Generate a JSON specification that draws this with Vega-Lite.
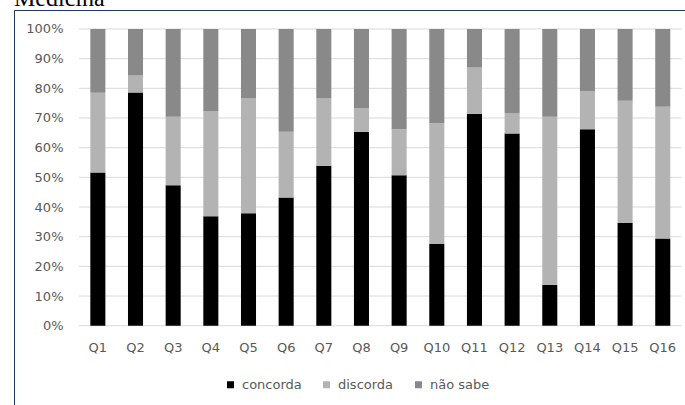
{
  "$schema": "https://vega.github.io/schema/vega-lite/v6.json",
  "width": 671,
  "height": 395,
  "autosize": {"type": "none"},
  "padding": {"left": 14, "top": 10, "right": 0, "bottom": 0},
  "background": "white",
  "title": {
    "text": "Medicina",
    "anchor": "start",
    "frame": "group",
    "font": "Liberation Serif",
    "fontSize": 24,
    "fontWeight": "normal",
    "color": "#000000",
    "baseline": "alphabetic",
    "offset": 5,
    "dy": 25
  },
  "config": {
    "view": {"stroke": null},
    "axis": {
      "labelFont": "DejaVu Sans",
      "labelFontSize": 13,
      "labelColor": "#595959",
      "ticks": false,
      "tickSize": 0,
      "grid": false,
      "domainColor": "#203864",
      "domainWidth": 1
    },
    "legend": {
      "labelFont": "DejaVu Sans",
      "labelFontSize": 13,
      "labelColor": "#595959"
    }
  },
  "layer": [
    {
      "data": {"values": [{"v": 0}, {"v": 10}, {"v": 20}, {"v": 30}, {"v": 40}, {"v": 50}, {"v": 60}, {"v": 70}, {"v": 80}, {"v": 90}, {"v": 100}]},
      "mark": {"type": "rule", "color": "#d9d9d9", "strokeWidth": 1},
      "encoding": {
        "y": {"field": "v", "type": "quantitative",
              "scale": {"domain": [-26.73, 106.4], "nice": false, "zero": false},
              "axis": {"orient": "left", "title": null, "values": [0, 10, 20, 30, 40, 50, 60, 70, 80, 90, 100],
                       "labelExpr": "datum.value + '%'", "labelPadding": -49, "labelAlign": "right"}},
        "x": {"datum": "Q1", "type": "nominal", "bandPosition": -0.111,
              "scale": {"type": "band", "domain": ["Q1","Q2","Q3","Q4","Q5","Q6","Q7","Q8","Q9","Q10","Q11","Q12","Q13","Q14","Q15","Q16"],
                        "paddingInner": 0.183, "paddingOuter": 1, "align": 0.909, "round": false},
              "axis": {"orient": "top", "title": null, "labelPadding": -337, "labelBaseline": "middle", "labelAngle": 0}},
        "x2": {"datum": "Q16", "bandPosition": 1.111}
      }
    },
    {
      "data": {"values": [
        {"q": "Q1", "concorda": 51.6, "discorda": 26.9, "não sabe": 21.5},
        {"q": "Q2", "concorda": 78.6, "discorda": 5.7, "não sabe": 15.7},
        {"q": "Q3", "concorda": 47.3, "discorda": 23.1, "não sabe": 29.6},
        {"q": "Q4", "concorda": 36.9, "discorda": 35.5, "não sabe": 27.6},
        {"q": "Q5", "concorda": 37.9, "discorda": 38.7, "não sabe": 23.4},
        {"q": "Q6", "concorda": 43.2, "discorda": 22.2, "não sabe": 34.6},
        {"q": "Q7", "concorda": 53.9, "discorda": 22.7, "não sabe": 23.4},
        {"q": "Q8", "concorda": 65.4, "discorda": 7.9, "não sabe": 26.7},
        {"q": "Q9", "concorda": 50.7, "discorda": 15.5, "não sabe": 33.8},
        {"q": "Q10", "concorda": 27.5, "discorda": 40.7, "não sabe": 31.8},
        {"q": "Q11", "concorda": 71.4, "discorda": 15.6, "não sabe": 13.0},
        {"q": "Q12", "concorda": 64.8, "discorda": 6.7, "não sabe": 28.5},
        {"q": "Q13", "concorda": 13.8, "discorda": 56.6, "não sabe": 29.6},
        {"q": "Q14", "concorda": 66.2, "discorda": 12.8, "não sabe": 21.0},
        {"q": "Q15", "concorda": 34.6, "discorda": 41.2, "não sabe": 24.2},
        {"q": "Q16", "concorda": 29.4, "discorda": 44.4, "não sabe": 26.2}
      ]},
      "transform": [{"fold": ["concorda", "discorda", "não sabe"], "as": ["resposta", "pct"]}],
      "mark": {"type": "bar", "width": {"band": 0.489}},
      "encoding": {
        "x": {"field": "q", "type": "nominal",
              "scale": {"type": "band", "domain": ["Q1","Q2","Q3","Q4","Q5","Q6","Q7","Q8","Q9","Q10","Q11","Q12","Q13","Q14","Q15","Q16"],
                        "paddingInner": 0.183, "paddingOuter": 1, "align": 0.909, "round": false},
              "axis": {"orient": "top", "title": null, "labelPadding": -337, "labelBaseline": "middle", "labelAngle": 0}},
        "y": {"field": "pct", "type": "quantitative", "stack": "zero",
              "scale": {"domain": [-26.73, 106.4], "nice": false, "zero": false},
              "axis": {"orient": "left", "title": null, "values": [0, 10, 20, 30, 40, 50, 60, 70, 80, 90, 100],
                       "labelExpr": "datum.value + '%'", "labelPadding": -49, "labelAlign": "right"}},
        "color": {"field": "resposta", "type": "nominal",
                  "scale": {"domain": ["concorda", "discorda", "não sabe"], "range": ["#000000", "#b3b3b3", "#898989"]},
                  "legend": {"orient": "none", "legendX": 210, "legendY": 368, "direction": "horizontal", "title": null,
                             "symbolType": "square", "symbolSize": 49, "symbolStrokeWidth": 0, "labelOffset": 5, "columnPadding": 18, "padding": 0}},
        "order": {"field": "resposta", "type": "ordinal", "sort": "ascending"}
      }
    }
  ]
}
